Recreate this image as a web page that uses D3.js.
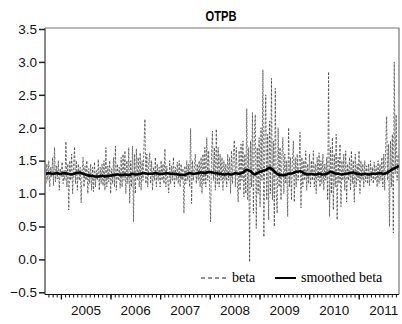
<!DOCTYPE html>
<html lang="en">

<head>
    <meta charset="UTF-8">
    <title>OTPB</title>
    <style>
        body { margin: 0; background: #fff; }
    </style>
</head>

<body>
    <svg width="402" height="324" id="svg"></svg>
    <script src="https://d3js.org/d3.v7.min.js"></script>
    <script>
        // weekly beta, first week starts 2004-09-06
        const startDate = new Date(2004, 8, 6)
        const endDate = new Date(2011, 9, 24)
        const betaValues = [
            1.88, 1.15, 1.45, 1.2, 1.5, 1.1, 1.4, 1.25, 1.55, 1.12,
            1.70, 1.18, 1.42, 1.22, 1.5, 1.05, 1.38, 1.25, 1.48, 1.15,
            1.35, 1.2, 1.79, 1.1, 1.45, 0.75, 1.5, 1.2, 1.6, 1.0,
            1.4, 1.71, 1.15, 1.5, 1.05, 1.45, 1.2, 1.4, 0.86, 1.35,
            1.55, 1.1, 1.42, 1.2, 1.5, 1.0, 1.38, 1.15, 1.45, 1.05,
            1.4, 1.03, 1.48, 1.1, 1.35, 1.2, 1.52, 1.05, 1.4, 1.15,
            1.45, 1.12, 1.5, 1.05, 1.7, 1.1, 1.42, 1.18, 1.5, 1.0,
            1.38, 1.15, 1.55, 1.1, 1.72, 1.05, 1.45, 1.2, 1.4, 1.08,
            1.55, 1.1, 1.6, 1.2, 1.65, 1.0, 1.5, 1.15, 1.7, 0.85,
            1.5, 1.1, 1.72, 0.57, 1.6, 1.0, 1.68, 1.2, 1.55, 1.1,
            1.62, 1.05, 1.5, 1.2, 1.72, 2.13, 1.15, 1.6, 1.1, 1.45,
            1.62, 1.15, 1.5, 1.05, 1.4, 1.2, 1.55, 1.1, 1.45, 1.2,
            1.4, 1.1, 1.5, 1.2, 1.45, 1.15, 1.68, 1.1, 1.42, 1.2,
            1.01, 1.5, 1.15, 1.42, 1.2, 1.55, 1.1, 1.4, 1.2, 1.48,
            1.15, 1.5, 1.1, 1.45, 1.2, 1.38, 0.7, 1.42, 1.15, 1.5,
            1.2, 1.45, 1.1, 1.99, 0.85, 1.5, 1.2, 1.4, 1.6, 1.15,
            1.45, 1.2, 1.5, 1.1, 1.55, 1.0, 1.6, 1.15, 1.7, 1.1,
            1.85, 1.2, 1.65, 1.1, 0.57, 1.6, 1.95, 1.2, 1.7, 1.05,
            1.98, 1.15, 1.7, 1.1, 1.6, 1.2, 1.55, 1.05, 1.5, 1.2,
            1.45, 1.1, 1.6, 1.2, 1.55, 1.0, 1.65, 1.15, 1.6, 1.81,
            1.1, 1.7, 1.2, 0.87, 1.65, 1.05, 1.75, 1.2, 1.8, 0.95,
            1.6, 1.0, 2.29, 0.9, 1.7, -0.04, 1.8, 1.1, 2.23, 0.7,
            1.9, 2.2, 0.47, 1.7, 1.0, 1.85, 0.8, 2.0, 1.2, 2.88,
            0.34, 1.8, 2.5, 0.9, 1.9, 0.6, 2.1, 1.0, 2.75, 0.9,
            1.8, 0.5, 2.6, 1.0, 0.7, 2.0, 1.1, 1.7, 0.9, 1.6,
            1.85, 1.0, 1.6, 1.15, 1.5, 0.65, 2.0, 1.1, 1.55, 0.9,
            1.5, 1.8, 0.87, 1.55, 1.1, 1.6, 1.2, 1.45, 1.93, 0.78,
            1.55, 1.1, 1.5, 1.2, 1.65, 1.05, 1.45, 1.15, 1.6, 1.1,
            1.5, 1.2, 1.65, 1.1, 1.45, 1.0, 1.55, 1.2, 1.62, 1.1,
            1.5, 1.15, 1.6, 1.05, 1.45, 1.2, 1.55, 0.9, 2.85, 0.65,
            1.7, 1.0, 1.85, 0.75, 1.6, 1.1, 1.9, 0.6, 1.55, 1.15,
            1.75, 0.8, 1.5, 1.2, 1.6, 1.05, 1.65, 0.87, 1.45, 1.2,
            1.55, 1.05, 1.65, 1.15, 1.5, 0.87, 1.6, 1.1, 1.45, 1.2,
            1.65, 1.0, 1.5, 1.2, 1.45, 1.1, 1.5, 1.18, 1.42, 1.15,
            1.45, 1.12, 1.5, 1.2, 1.4, 1.15, 1.48, 1.2, 1.42, 1.1,
            1.5, 1.15, 1.45, 1.2, 1.55, 1.1, 1.6, 1.05, 1.7, 2.17,
            1.2, 1.75, 0.5, 1.8, 1.1, 1.9, 0.4, 3.0, 1.3, 2.2,
            1.2, 1.6
        ]
        // smoothed beta, one value every 4 weeks
        const smoothValues = [
            1.30, 1.31, 1.30, 1.31, 1.30, 1.31, 1.30, 1.29, 1.31, 1.32,
            1.30, 1.28, 1.27, 1.26, 1.26, 1.27, 1.26, 1.27, 1.28, 1.29,
            1.28, 1.29, 1.28, 1.30, 1.29, 1.30, 1.31, 1.30, 1.30, 1.31,
            1.30, 1.30, 1.31, 1.30, 1.30, 1.29, 1.28, 1.29, 1.31, 1.30,
            1.31, 1.32, 1.31, 1.33, 1.32, 1.31, 1.30, 1.29, 1.30, 1.29,
            1.31, 1.30, 1.32, 1.36, 1.34, 1.29, 1.32, 1.34, 1.36, 1.39,
            1.35, 1.30, 1.28, 1.28, 1.30, 1.31, 1.33, 1.34, 1.31, 1.29,
            1.30, 1.29, 1.30, 1.29, 1.30, 1.33, 1.31, 1.30, 1.29, 1.30,
            1.31, 1.32, 1.30, 1.29, 1.30, 1.29, 1.30, 1.30, 1.31, 1.30,
            1.32, 1.36, 1.39, 1.42
        ]
        const yTicks = [-0.5, 0, 0.5, 1, 1.5, 2, 2.5, 3, 3.5]
        const legendLabels = ["beta", "smoothed beta"]

        const betaData = betaValues.map((v, i) => ({ date: d3.timeDay.offset(startDate, i * 7), value: v }))
        const smoothData = smoothValues.map((v, i) => ({ date: d3.timeDay.offset(startDate, i * 28), value: v }))

        const svg = d3.select("svg#svg")
        const pad = { left: 45, right: 399, top: 28, bottom: 294.5 }

        const xScale = d3.scaleTime().domain([startDate, endDate]).range([pad.left, pad.right])
        const yScale = d3.scaleLinear().domain([-0.5, 3.5]).range([292.3, 29])

        // title (condensed look)
        svg.append("text")
            .attr("x", 221).attr("y", 21)
            .attr("text-anchor", "middle")
            .attr("textLength", 31).attr("lengthAdjust", "spacingAndGlyphs")
            .style("font-family", "'Liberation Sans', Arial, sans-serif")
            .style("font-weight", "bold")
            .style("font-size", "14px")
            .text("OTPB")

        // frame (top / right)
        svg.append("path")
            .attr("d", `M${pad.left},${pad.top}H${pad.right}V${pad.bottom}`)
            .attr("fill", "none").attr("stroke", "#777").attr("stroke-width", 1.2)

        svg.append("clipPath").attr("id", "clip")
            .append("rect").attr("x", pad.left).attr("y", pad.top)
            .attr("width", pad.right - pad.left).attr("height", pad.bottom - pad.top)

        const line = d3.line().x(d => xScale(d.date)).y(d => yScale(d.value))

        const plot = svg.append("g").attr("clip-path", "url(#clip)")
        plot.append("path")
            .datum(betaData)
            .attr("d", line)
            .attr("fill", "none")
            .attr("stroke", "#3a3a3a")
            .attr("stroke-opacity", 0.7)
            .attr("stroke-width", 1)
            .attr("stroke-dasharray", "2.5,1.5")
        plot.append("path")
            .datum(smoothData)
            .attr("d", line.curve(d3.curveMonotoneX))
            .attr("fill", "none")
            .attr("stroke", "#000")
            .attr("stroke-width", 2.6)

        // y axis
        const yAxis = d3.axisLeft(yScale).tickValues(yTicks).tickSize(6).tickPadding(2).tickFormat(d3.format(".1f"))
        const gy = svg.append("g").attr("transform", `translate(${pad.left},0)`).call(yAxis)
        gy.select(".domain").attr("d", `M0,${pad.top}V${pad.bottom}`).attr("stroke", "#888").attr("stroke-width", 2)
        gy.selectAll(".tick line").attr("stroke", "#222").attr("stroke-width", 1.5)
        gy.selectAll("text").style("font-family", "'Liberation Sans', Arial, sans-serif").style("font-size", "13.5px").attr("fill", "#111")

        // x axis: monthly minor ticks, yearly major ticks, labels mid-year
        const gxMinor = svg.append("g").attr("transform", `translate(0,${pad.bottom})`)
            .call(d3.axisBottom(xScale).ticks(d3.timeMonth.every(1)).tickSize(3).tickFormat(""))
        gxMinor.select(".domain").attr("d", `M${pad.left},0H${pad.right}`).attr("stroke", "#111").attr("stroke-width", 1.2)
        gxMinor.selectAll(".tick line").attr("stroke", "#111")

        const gxMajor = svg.append("g").attr("transform", `translate(0,${pad.bottom})`)
            .call(d3.axisBottom(xScale).ticks(d3.timeYear.every(1)).tickSize(5).tickFormat(""))
        gxMajor.select(".domain").remove()
        gxMajor.selectAll(".tick line").attr("stroke", "#111").attr("stroke-width", 1.3)

        const labelDates = d3.range(2005, 2012).map(y => new Date(y, 6, 1))
        const gxLab = svg.append("g").attr("transform", `translate(0,${pad.bottom})`)
            .call(d3.axisBottom(xScale).tickValues(labelDates).tickSize(0).tickPadding(11).tickFormat(d3.timeFormat("%Y")))
        gxLab.select(".domain").remove()
        gxLab.selectAll("text").style("font-family", "'Liberation Sans', Arial, sans-serif").style("font-size", "13.5px").attr("fill", "#111")

        // legend
        const legend = svg.append("g").style("font-family", "'Liberation Serif', 'Times New Roman', serif").style("font-size", "14px")
        legend.append("line").attr("x1", 201).attr("x2", 227).attr("y1", 278).attr("y2", 278)
            .attr("stroke", "#222").attr("stroke-width", 1).attr("stroke-dasharray", "4,3")
        legend.append("text").attr("x", 232).attr("y", 282).text(legendLabels[0])
        legend.append("line").attr("x1", 275).attr("x2", 296).attr("y1", 278).attr("y2", 278)
            .attr("stroke", "#000").attr("stroke-width", 2)
        legend.append("text").attr("x", 301).attr("y", 282).text(legendLabels[1])
    </script>
</body>

</html>
